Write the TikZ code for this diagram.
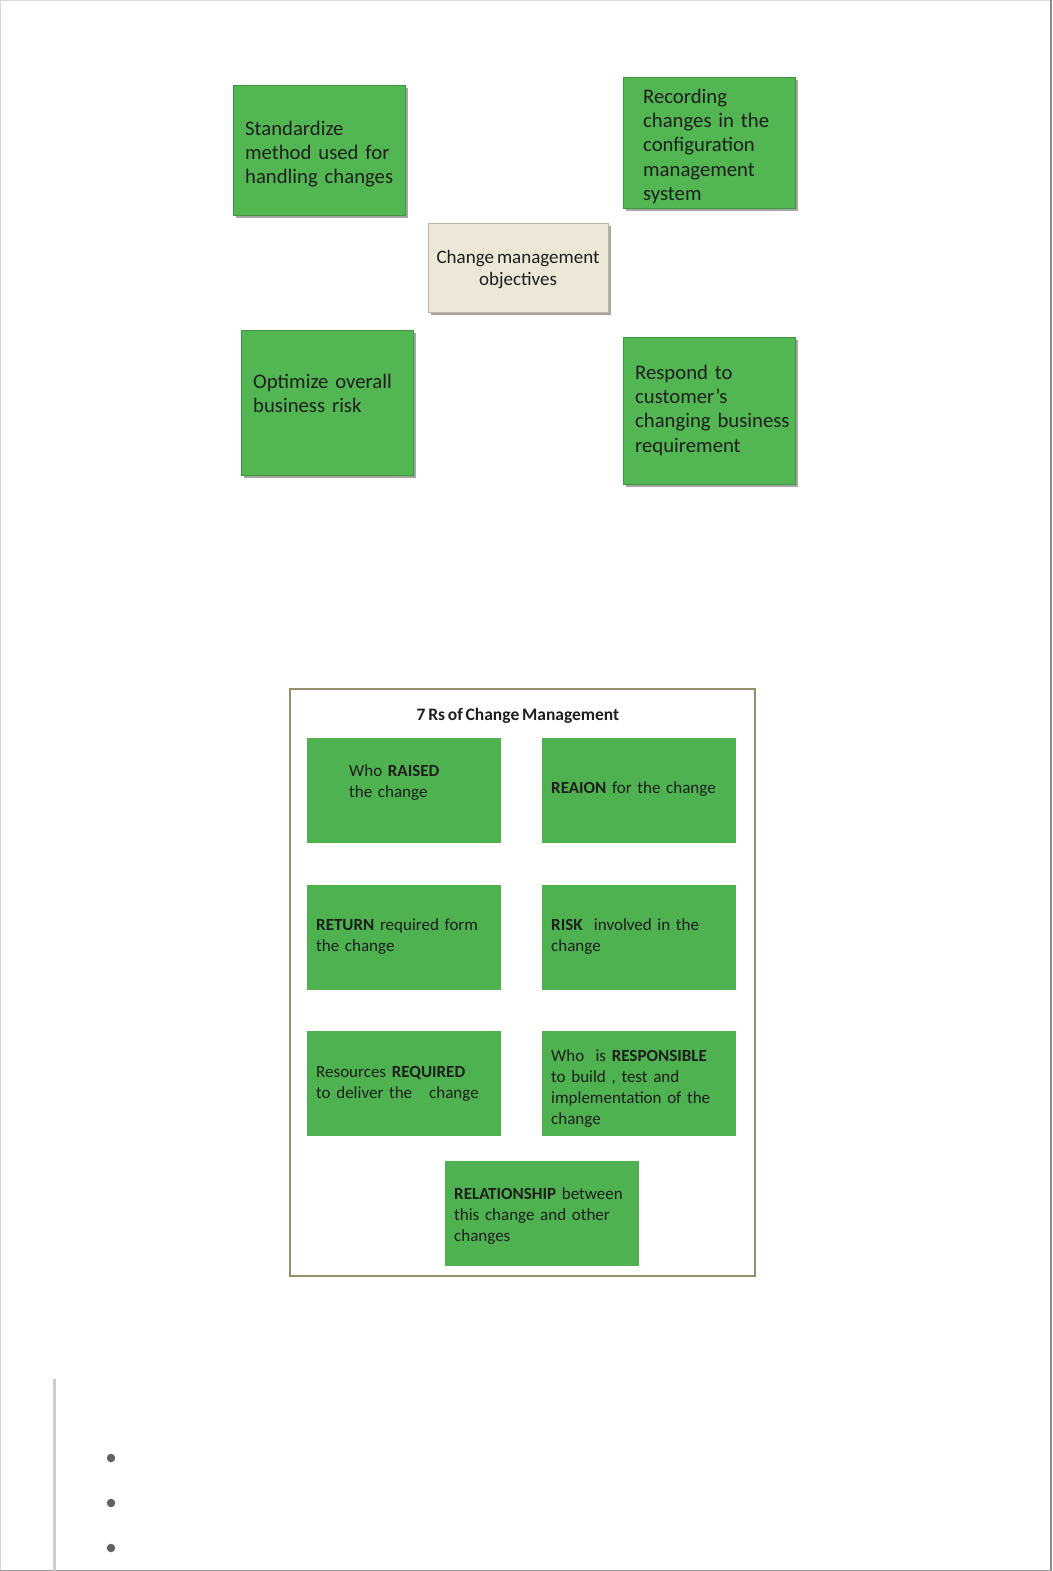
\documentclass[tikz,border=0pt]{standalone}
\usepackage{fontspec}
\setmainfont{Carlito}[WordSpace=0.7]
\usetikzlibrary{shadows}

\definecolor{objgreen}{RGB}{82,183,82}
\definecolor{objedge}{RGB}{62,150,62}
\definecolor{hubfill}{RGB}{236,231,214}
\definecolor{hubedge}{RGB}{190,184,160}
\definecolor{rgreen}{RGB}{78,178,80}
\definecolor{frameedge}{RGB}{150,143,108}
\definecolor{inktext}{RGB}{30,30,30}

\begin{document}
\begin{tikzpicture}[x=1pt,y=-1pt,
    objbox/.style={draw=objedge,fill=objgreen,line width=.8pt,anchor=north west,inner sep=0pt,
      drop shadow={shadow xshift=2.5pt,shadow yshift=-2.5pt,fill=black,opacity=.35}},
    hubbox/.style={draw=hubedge,fill=hubfill,line width=.8pt,anchor=north west,inner sep=0pt,
      drop shadow={shadow xshift=2.5pt,shadow yshift=-2.5pt,fill=black,opacity=.35}},
    objtext/.style={anchor=base west,inner sep=0pt,text width=165pt,align=left,
      font=\fontsize{20.7}{24.2}\selectfont,text=inktext},
    rbox/.style={fill=rgreen,anchor=north west,inner sep=0pt,minimum width=194pt,minimum height=105pt},
    rtext/.style={anchor=base west,inner sep=0pt,text width=185pt,align=left,
      font=\fontsize{17}{21.3}\selectfont,text=inktext},
    bulletdot/.style={circle,fill=black!62,inner sep=0pt,minimum size=8.5pt}]
  \useasboundingbox (0,0) rectangle (1052,1571);
  % page edges
  \draw[black!15,line width=1pt] (0.5,1571) -- (0.5,0.5) -- (1052,0.5);
  \draw[black!45,line width=1.2pt] (1051,0) -- (1051,1571);
  \draw[black!40,line width=1pt] (0,1570.5) -- (1052,1570.5);

  % change management objectives
  \node[objbox,minimum width=172pt,minimum height=130pt] (std) at (233,85) {};
  \node[objtext] (stdtxt) at (245,135.5) {Standardize\\method used for\\handling changes};
  \node[objbox,minimum width=172pt,minimum height=131pt] (rec) at (623,77) {};
  \node[objtext] (rectxt) at (643,103.5) {Recording\\changes in the\\configuration\\management\\system};
  \node[hubbox,minimum width=180pt,minimum height=89pt] (hub) at (428,223) {};
  \node[anchor=base,inner sep=0pt,align=center,font=\fontsize{19}{22}\selectfont,text=inktext]
    (hubtxt) at (518,285.5) {Change management\\objectives};
  \node[objbox,minimum width=172pt,minimum height=145pt] (opt) at (241,330) {};
  \node[objtext] (opttxt) at (253,388.5) {Optimize overall\\business risk};
  \node[objbox,minimum width=172pt,minimum height=147pt] (resp) at (623,337) {};
  \node[objtext] (resptxt) at (635,379.5) {Respond to\\customer’s\\changing business\\requirement};

  % 7 Rs of change management
  \node[draw=frameedge,line width=2pt,anchor=north west,inner sep=0pt,
    minimum width=465pt,minimum height=587pt] (frame) at (289,688) {};
  \node[anchor=base,inner sep=0pt,font=\fontsize{17.5}{20}\selectfont\bfseries,text=inktext]
    (title) at (518,720) {7 Rs of Change Management};

  \node[rbox] (raised) at (307,738) {};
  \node[rtext] at (349,776) {Who \textbf{RAISED}\\the change};
  \node[rbox] (reason) at (542,738) {};
  \node[rtext] at (551,793) {\textbf{REAION} for the change};
  \node[rbox] (return) at (307,885) {};
  \node[rtext] at (316,930) {\textbf{RETURN} required form\\the change};
  \node[rbox] (risk) at (542,885) {};
  \node[rtext] at (551,930) {\textbf{RISK}\ \ involved in the\\change};
  \node[rbox] (required) at (307,1031) {};
  \node[rtext] at (316,1077) {Resources \textbf{REQUIRED}\\to deliver the \ \ change};
  \node[rbox] (responsible) at (542,1031) {};
  \node[rtext] at (551,1061) {Who\ \ is \textbf{RESPONSIBLE}\\to build , test and\\implementation of the\\change};
  \node[rbox] (relation) at (445,1161) {};
  \node[rtext] at (454,1199) {\textbf{RELATIONSHIP} between\\this change and other\\changes};

  % list below
  \draw[black!20,line width=3pt] (54,1379) -- (54,1571);
  \foreach \k/\yy in {1/1458,2/1503,3/1548}
    \node[bulletdot] (dot\k) at (111,\yy) {};
\end{tikzpicture}
\end{document}
